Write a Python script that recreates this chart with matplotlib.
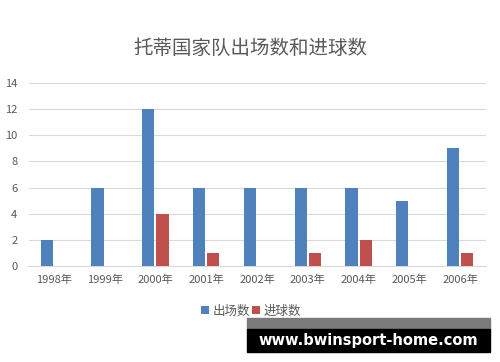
import matplotlib
matplotlib.use("Agg")
import matplotlib.pyplot as plt
import numpy as np
from matplotlib.patches import Rectangle

plt.rcParams['font.family'] = ['Noto Sans CJK SC', 'DejaVu Sans']

categories = ["1998年", "1999年", "2000年", "2001年", "2002年", "2003年", "2004年", "2005年", "2006年"]
appearances = [2, 6, 12, 6, 6, 6, 6, 5, 9]
goals = [0, 0, 4, 1, 0, 1, 2, 0, 1]
series_names = ["出场数", "进球数"]
title = "托蒂国家队出场数和进球数"
yticks = [0, 2, 4, 6, 8, 10, 12, 14]

fig = plt.figure(figsize=(5, 3.62), dpi=100)
ax = fig.add_axes([0.057, 0.265, 0.914, 0.506])

x = np.arange(len(categories))
w = 0.24
ax.bar(x - w/2 - 0.02, appearances, w, color="#4F81BD", label=series_names[0], zorder=3)
ax.bar(x + w/2 + 0.02, goals, w, color="#C0504D", label=series_names[1], zorder=3)

ax.set_xlim(-0.5, len(categories) - 0.5)
ax.set_ylim(0, 14)
ax.set_yticks(yticks)
ax.yaxis.grid(True, color="#D9D9D9", linewidth=0.8, zorder=0)
for s in ["top", "right", "left"]:
    ax.spines[s].set_visible(False)
ax.spines["bottom"].set_color("#D9D9D9")
ax.set_xticks(x)
ax.set_xticklabels(categories)
ax.tick_params(axis="both", length=0, labelsize=8, colors="#595959", pad=6)
ax.tick_params(axis="y", pad=8)

fig.text(0.5, 0.867, title, ha="center", va="center", fontsize=14, color="#595959")

ax.legend(loc="center", bbox_to_anchor=(0.5 - 0.013, -0.245), ncol=2, frameon=False,
          fontsize=9, handlelength=0.6, handleheight=0.6, handletextpad=0.3,
          columnspacing=0.2, labelcolor="#595959")

# watermark overlay
fig.patches.append(Rectangle((247/500, 1 - 329/362), (490-247)/500, 11/362,
                             transform=fig.transFigure, color="#7a7a7a", zorder=10))
fig.patches.append(Rectangle((247/500, 1 - 352/362), (490-247)/500, 23/362,
                             transform=fig.transFigure, color="black", zorder=10))
fig.text(368/500, 1 - 340/362, "www.bwinsport-home.com", ha="center", va="center",
         fontsize=10.5, color="white", fontweight="bold", family="DejaVu Sans", zorder=11)

fig.savefig("out.png", dpi=100)
